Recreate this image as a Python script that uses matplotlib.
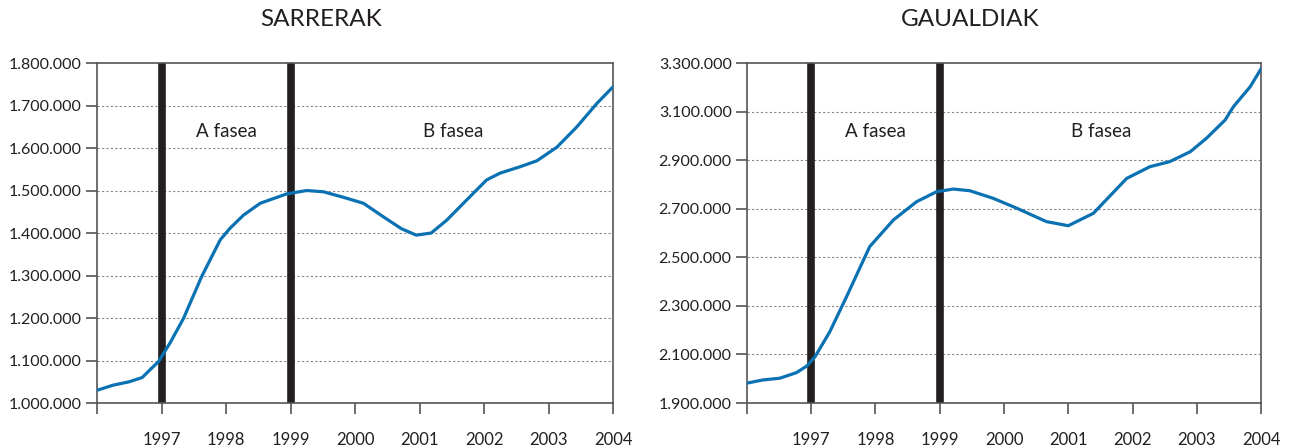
import matplotlib
matplotlib.use("Agg")
import matplotlib.pyplot as plt
import numpy as np
from matplotlib.ticker import FuncFormatter

plt.rcParams['font.family'] = ['Lato', 'DejaVu Sans']

# datuak (irudiatik irakurritako balioak)
sarrerak_x = [1996.0, 1996.25, 1996.5, 1996.7, 1996.82, 1996.95, 1997.13, 1997.34,
              1997.62, 1997.91, 1998.06, 1998.27, 1998.53, 1998.94, 1999.25, 1999.51,
              1999.82, 2000.13, 2000.44, 2000.72, 2000.95, 2001.18, 2001.42, 2001.68,
              2002.04, 2002.25, 2002.56, 2002.82, 2003.13, 2003.44, 2003.75, 2004.0]
sarrerak = [1030000, 1042000, 1050000, 1060000, 1078000, 1097000, 1141000, 1199000,
            1297000, 1384000, 1411000, 1442000, 1470000, 1492000, 1500000, 1497000,
            1484000, 1470000, 1438000, 1410000, 1395000, 1400000, 1430000, 1470000,
            1525000, 1541000, 1556000, 1570000, 1602000, 1650000, 1705000, 1744000]

gaualdiak_x = [1996.0, 1996.25, 1996.51, 1996.77, 1996.93, 1997.06, 1997.29, 1997.55,
               1997.91, 1998.28, 1998.64, 1998.95, 1999.21, 1999.47, 1999.83, 2000.2,
               2000.66, 2001.0, 2001.39, 2001.91, 2002.27, 2002.58, 2002.9, 2003.15,
               2003.44, 2003.57, 2003.83, 2004.0]
gaualdiak = [1982000, 1995000, 2002000, 2025000, 2052000, 2091000, 2194000, 2338000,
             2544000, 2654000, 2729000, 2770000, 2781000, 2774000, 2743000, 2702000,
             2647000, 2630000, 2681000, 2825000, 2873000, 2894000, 2935000, 2990000,
             3065000, 3120000, 3202000, 3276000]

xtick_urteak = [1996, 1997, 1998, 1999, 2000, 2001, 2002, 2003, 2004]
xtick_etiketak = ['', '1997', '1998', '1999', '2000', '2001', '2002', '2003', '2004']
fase_mugak = [1997, 1999]

def puntuak(v, pos):
    return f"{int(v):,}".replace(',', '.')

fig = plt.figure(figsize=(12.89, 4.46), dpi=100)

paneles = [
    ("SARRERAK", sarrerak_x, sarrerak, [0.0753, 0.0964, 0.4003, 0.7623],
     (1000000, 1800000), np.arange(1000000, 1800001, 100000), 321 / 1289),
    ("GAUALDIAK", gaualdiak_x, gaualdiak, [0.5795, 0.0964, 0.3988, 0.7623],
     (1900000, 3300000), np.arange(1900000, 3300001, 200000), 970 / 1289),
]

for izena, xs, balioak, pos, ylim, yticks, tx in paneles:
    ax = fig.add_axes(pos)
    ax.set_xlim(1996, 2004)
    ax.set_ylim(*ylim)
    ax.set_yticks(yticks)
    ax.yaxis.set_major_formatter(FuncFormatter(puntuak))
    ax.set_xticks(xtick_urteak)
    ax.set_xticklabels(xtick_etiketak)
    for y in yticks[1:-1]:
        ax.axhline(y, color='#888888', linestyle=(0, (2, 2)), linewidth=0.8, zorder=1)
    for m in fase_mugak:
        ax.axvline(m, color='#231f20', linewidth=5.5, zorder=2)
    ax.plot(xs, balioak, color='#0a72b3', linewidth=2.3, zorder=3, solid_joinstyle='round')
    ax.text(0.25, 0.80, 'A fasea', transform=ax.transAxes, ha='center', va='center',
            fontsize=13.5, color='#231f20')
    ax.text(0.69, 0.80, 'B fasea', transform=ax.transAxes, ha='center', va='center',
            fontsize=13.5, color='#231f20')
    fig.text(tx, 1 - 20 / 446, izena, ha='center', va='center', fontsize=17.5, color='#231f20')
    for s in ax.spines.values():
        s.set_color('#555555')
        s.set_linewidth(1.2)
    ax.tick_params(axis='x', direction='out', length=8, width=1.2, color='#555555', pad=13,
                   labelsize=12, labelcolor='#231f20')
    ax.tick_params(axis='y', direction='out', length=8, width=1.2, color='#555555', pad=3,
                   labelsize=11.5, labelcolor='#231f20')

fig.savefig('out.png', dpi=100)
